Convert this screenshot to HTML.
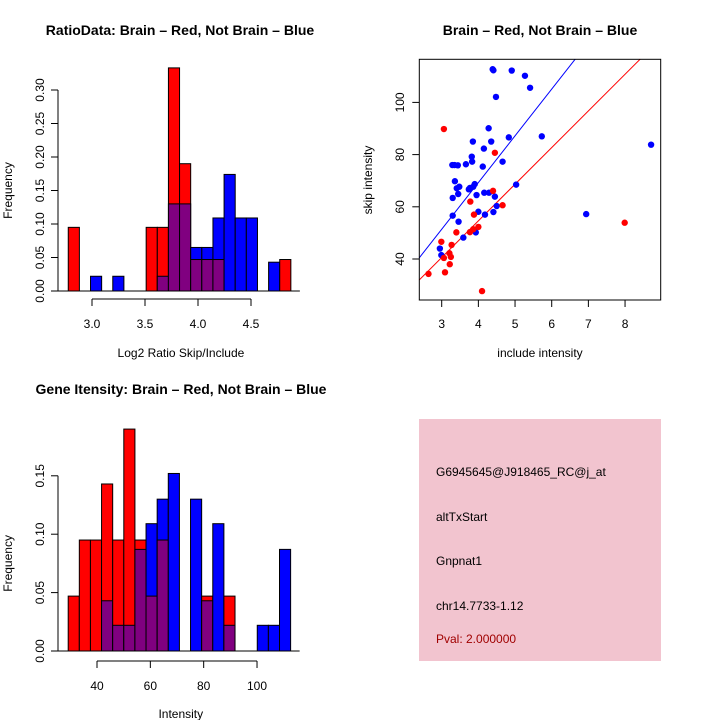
<!DOCTYPE html>
<html><head><meta charset="utf-8">
<style>html,body{margin:0;padding:0;background:#fff}svg{display:block}</style>
</head><body>
<svg id="chart" width="720" height="720" viewBox="0 0 720 720" xmlns="http://www.w3.org/2000/svg" font-family="Liberation Sans, sans-serif">
<rect x="0" y="0" width="720" height="720" fill="#fff"/>
<g id="p1"></g>
<g id="p2"></g>
<g id="p3"></g>
<g id="p4">
  <rect x="419" y="419" width="242" height="242" fill="#f2c4cf"/>
  <text x="436" y="476" font-size="12">G6945645@J918465_RC@j_at</text>
  <text x="436" y="521" font-size="12">altTxStart</text>
  <text x="436" y="565" font-size="12">Gnpnat1</text>
  <text x="436" y="610" font-size="12">chr14.7733-1.12</text>
  <text x="436" y="643" font-size="12" fill="#a00000">Pval: 2.000000</text>
</g>
</svg>
<script>
// Panel 1 data
const ratioRed  = [0.095,0,0,0,0,0,0,0.095,0.095,0.333,0.19,0.047,0.047,0.047,0,0,0,0,0,0.047];
const ratioBlue = [0,0,0.022,0,0.022,0,0,0,0.022,0.13,0.13,0.065,0.065,0.109,0.174,0.109,0.109,0,0.043,0];
const ratioBinStart = 2.776, ratioBinWidth = 0.105;
const ratioXTicks = [3.0,3.5,4.0,4.5];
const ratioYTicks = [0.00,0.05,0.10,0.15,0.20,0.25,0.30];
// Panel 3 data
const intRed  = [0.047,0.095,0.095,0.143,0.095,0.19,0.095,0.047,0.095,0,0,0,0.047,0,0.047,0,0,0,0,0];
const intBlue = [0,0,0,0.043,0.022,0.022,0.087,0.109,0.13,0.152,0,0.13,0.043,0.109,0.022,0,0,0.022,0.022,0.087];
const intBinStart = 29.2, intBinWidth = 4.17;
const intXTicks = [40,60,80,100];
const intYTicks = [0.00,0.05,0.10,0.15];
// Panel 2 data
const blueX = [4.39,4.41,4.91,5.27,5.41,4.48,4.28,4.83,5.73,3.85,4.35,4.15,3.82,3.83,4.66,4.12,3.29,3.35,3.44,3.66,3.36,3.9,3.86,3.48,3.41,3.74,3.77,3.45,3.95,4.16,4.29,4.45,5.03,3.3,3.3,4.18,3.46,4.0,4.5,4.41,3.59,3.93,2.95,2.99,6.94,8.71];
const blueY = [112.7,112.3,112.2,110.2,105.6,102.1,90.1,86.6,87.0,85.0,85.0,82.3,79.2,77.3,77.3,75.4,76.0,76.0,75.9,76.3,69.8,68.7,67.7,67.7,67.1,66.7,67.2,64.9,64.5,65.4,65.4,63.9,68.5,63.4,56.6,57.0,54.3,58.1,60.3,58.0,48.2,50.2,44.0,41.5,57.2,83.8];
const redX = [3.06,4.45,4.4,4.66,3.78,3.88,3.4,3.77,3.86,4.0,2.99,3.27,3.21,3.25,3.06,3.22,3.09,2.64,4.1,7.99];
const redY = [89.8,80.7,66.1,60.6,62.0,57.0,50.2,50.3,51.4,52.3,46.6,45.4,42.2,40.8,40.4,38.0,34.9,34.3,27.7,53.9];
const blueLine = [-2.3,17.9]; // intercept, slope
const redLine = [-1.55,14.04];
const scatXTicks = [3,4,5,6,7,8];
const scatYTicks = [40,60,80,100];

const NS='http://www.w3.org/2000/svg';
function mk(parent,tag,attrs,txt){const e=document.createElementNS(NS,tag);for(const k in attrs)e.setAttribute(k,attrs[k]);if(txt!==undefined)e.textContent=txt;parent.appendChild(e);return e;}

function histPanel(g,red,blue,start,w,xt,yt,sx,sy,axisY,title,titleX,titleY,xlab,xlabY,yTickFmt,xTickFmt){
  const base=sy(0);
  const t=mk(g,'text',{x:titleX,y:titleY,'font-size':14,'font-weight':'bold','text-anchor':'middle'},title);
  
  
  for(let i=0;i<red.length;i++){
    const bx0=sx(start+i*w), bx1=sx(start+(i+1)*w);
    const hi=Math.max(red[i],blue[i]), lo=Math.min(red[i],blue[i]);
    if(hi<=0) continue;
    const col=red[i]>=blue[i]?'#ff0000':'#0000ff';
    const r=mk(g,'rect',{x:bx0,y:sy(hi),width:bx1-bx0,height:base-sy(hi),fill:col,stroke:'#000','stroke-width':1});
    
    
    if(lo>0){
      const p=mk(g,'rect',{x:bx0,y:sy(lo),width:bx1-bx0,height:base-sy(lo),fill:'#800080',stroke:'#000','stroke-width':1});
      
      
    }
  }
  const x1=sx(start+red.length*w);
  const ya=mk(g,'line',{x1:58,y1:sy(yt[0]),x2:58,y2:sy(yt[yt.length-1]),stroke:'#000'});
  
  
  mk(g,'line',{x1:58,y1:base,x2:x1+9,y2:base,stroke:'#000'});
  yt.forEach(v=>{
    const y=sy(v);
    mk(g,'line',{x1:51,y1:y,x2:58,y2:y,stroke:'#000'});
    const l=mk(g,'text',{x:44,y:y,'font-size':12,'text-anchor':'middle',transform:'rotate(-90 44 '+y+')'},yTickFmt(v));
    
    
  });
  const xa=mk(g,'line',{x1:sx(xt[0]),y1:axisY,x2:sx(xt[xt.length-1]),y2:axisY,stroke:'#000'});
  
  
  xt.forEach(v=>{
    const x=sx(v);
    mk(g,'line',{x1:x,y1:axisY,x2:x,y2:axisY+7,stroke:'#000'});
    const l=mk(g,'text',{x:x,y:axisY+29,'font-size':12,'text-anchor':'middle'},xTickFmt(v));
    
    
  });
  const xl=mk(g,'text',{x:(58+x1+9)/2+2,y:xlabY,'font-size':12,'text-anchor':'middle'},xlab);
  
  
  const ym=(sy(yt[0])+sy(yt[yt.length-1]))/2;
  const yl=mk(g,'text',{x:12,y:ym,'font-size':12,'text-anchor':'middle',transform:'rotate(-90 12 '+ym+')'},'Frequency');
  
  
}

histPanel(document.getElementById('p1'),ratioRed,ratioBlue,ratioBinStart,ratioBinWidth,ratioXTicks,ratioYTicks,
  v=>92+(v-3)*106, v=>291-v*670, 299,
  'RatioData: Brain \u2013 Red, Not Brain \u2013 Blue',180,35,'Log2 Ratio Skip/Include',357,v=>v.toFixed(2),v=>v.toFixed(1));
histPanel(document.getElementById('p3'),intRed,intBlue,intBinStart,intBinWidth,intXTicks,intYTicks,
  v=>97+(v-40)*2.667, v=>651-v*1168, 661,
  'Gene Itensity: Brain \u2013 Red, Not Brain \u2013 Blue',181,394,'Intensity',718,v=>v.toFixed(2),v=>String(v));

(function(){
  const g=document.getElementById('p2');
  const sx=v=>441.7+(v-3)*36.67, sy=v=>259-(v-40)*2.61;
  const L=419.3,R=660.7,T=59.3,B=300;
  const t=mk(g,'text',{x:540,y:35,'font-size':14,'font-weight':'bold','text-anchor':'middle'},'Brain \u2013 Red, Not Brain \u2013 Blue');
  
  
  const clip=mk(g,'clipPath',{id:'sc'});mk(clip,'rect',{x:L,y:T,width:R-L,height:B-T});
  const lg=mk(g,'g',{'clip-path':'url(#sc)'});
  const xa=(L-441.7)/36.67+3, xb=(R-441.7)/36.67+3;
  [[blueLine,'#0000ff','blue-fit-line'],[redLine,'#ff0000','red-fit-line']].forEach(([c,col,n])=>{
    const l=mk(lg,'line',{x1:sx(xa),y1:sy(c[0]+c[1]*xa),x2:sx(xb),y2:sy(c[0]+c[1]*xb),stroke:col,'stroke-width':1});
    
    
  });
  blueX.forEach((x,i)=>{
    const c=mk(g,'circle',{cx:sx(x),cy:sy(blueY[i]),r:3.2,fill:'#0000ff'});
    
    
  });
  redX.forEach((x,i)=>{
    const c=mk(g,'circle',{cx:sx(x),cy:sy(redY[i]),r:3.2,fill:'#ff0000'});
    
    
  });
  const box=mk(g,'rect',{x:L,y:T,width:R-L,height:B-T,fill:'none',stroke:'#000'});
  
  
  scatXTicks.forEach(v=>{
    const x=sx(v);
    mk(g,'line',{x1:x,y1:B,x2:x,y2:B+7,stroke:'#000'});
    const l=mk(g,'text',{x:x,y:B+28,'font-size':12,'text-anchor':'middle'},String(v));
    
    
  });
  scatYTicks.forEach(v=>{
    const y=sy(v);
    mk(g,'line',{x1:L-7,y1:y,x2:L,y2:y,stroke:'#000'});
    const l=mk(g,'text',{x:404,y:y,'font-size':12,'text-anchor':'middle',transform:'rotate(-90 404 '+y+')'},String(v));
    
    
  });
  const xl=mk(g,'text',{x:540,y:357,'font-size':12,'text-anchor':'middle'},'include intensity');
  
  
  const yl=mk(g,'text',{x:372,y:180,'font-size':12,'text-anchor':'middle',transform:'rotate(-90 372 180)'},'skip intensity');
  
  
})();
</script>
</body></html>
